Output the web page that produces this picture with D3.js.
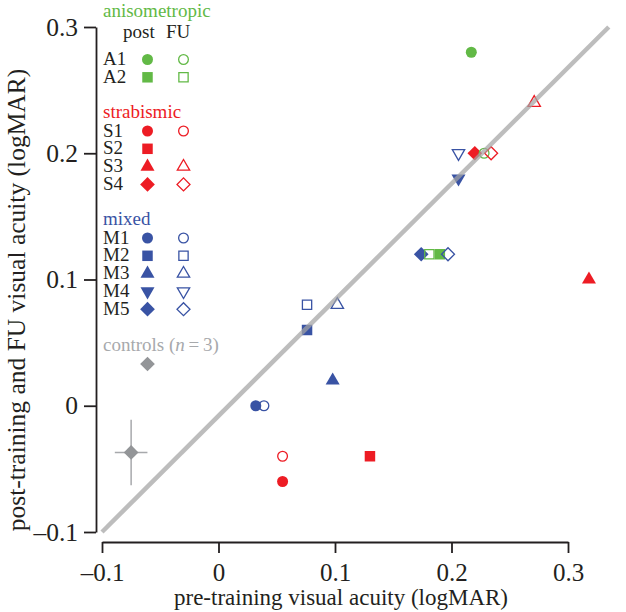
<!DOCTYPE html>
<html>
<head>
<meta charset="utf-8">
<script src="https://cdn.jsdelivr.net/npm/d3@7"></script>
<style>
body { margin: 0; background: #fff; }
svg text { font-family: "Liberation Serif", "Times New Roman", serif; fill: #231f20; }
</style>
</head>
<body>
<script>
// subjects, their group and marker shape
var subjects = ["A1", "A2", "S1", "S2", "S3", "S4", "M1", "M2", "M3", "M4", "M5"];
var groups   = ["aniso", "aniso", "strab", "strab", "strab", "strab", "mixed", "mixed", "mixed", "mixed", "mixed"];
var shapes   = ["circle", "square", "circle", "square", "triangle", "diamond",
                "circle", "square", "triangle", "triangleDown", "diamond"];

// post-training points (x read against the printed x axis)
var postX = [0.217, 0.190, 0.055, 0.130, 0.318, 0.220, 0.032, 0.076, 0.098, 0.206, 0.174];
var postY = [0.28, 0.12, -0.06, -0.04, 0.10, 0.20, 0.00, 0.06, 0.02, 0.18, 0.12];

// follow-up points (S2 has none)
var fuX = [0.228, 0.181, 0.055, null, 0.271, 0.234, 0.039, 0.076, 0.102, 0.206, 0.197];
var fuY = [0.20, 0.12, -0.04, null, 0.24, 0.20, 0.00, 0.08, 0.08, 0.20, 0.12];

// controls (n = 3): mean and error
var controlX = [-0.075], controlY = [-0.037];
var controlErrX = [0.014], controlErrY = [0.026];

// gray reference line, ends
var diagX = [-0.1, 0.335], diagY = [-0.1, 0.3];

var xTicks = [-0.1, 0, 0.1, 0.2, 0.3];
var yTicks = [-0.1, 0, 0.1, 0.2, 0.3];

var groupNames = ["aniso", "strab", "mixed"];
var groupLabels = ["anisometropic", "strabismic", "mixed"];
var groupColors = ["#62b946", "#ed1c24", "#3953a4"];

var margin = {top: 27, right: 58, bottom: 80, left: 102},
    width = 626 - margin.left - margin.right,
    height = 612 - margin.top - margin.bottom;

var x = d3.scaleLinear().domain([-0.1, 0.3]).range([0, width]);
var y = d3.scaleLinear().domain([-0.1, 0.3]).range([height, 0]);
var color = d3.scaleOrdinal().domain(groupNames).range(groupColors);

var fmt = function(d) {
  if (d === 0) return "0";
  return (d < 0 ? "\u2013" : "") + Math.abs(d);
};

var symbolType = {circle: d3.symbolCircle, square: d3.symbolSquare, triangle: d3.symbolTriangle,
                  triangleDown: d3.symbolTriangle, diamond: d3.symbolSquare};
var symbolSize = {circle: 95, square: 110, triangle: 85, triangleDown: 85, diamond: 108};
var symbolRot = {circle: 0, square: 0, triangle: 0, triangleDown: 180, diamond: 45};

function symbolPath(shape, open) {
  return d3.symbol().type(symbolType[shape]).size(symbolSize[shape] * (open ? 0.78 : 1))();
}

var svg = d3.select("body").append("svg")
    .attr("width", 626)
    .attr("height", 612);

var g = svg.append("g")
    .attr("transform", "translate(" + margin.left + "," + margin.top + ")");

// y axis, offset to the left
var yAxis = g.append("g")
    .attr("transform", "translate(-6,0)")
    .call(d3.axisLeft(y).tickValues(yTicks).tickFormat(fmt)
      .tickSize(12).tickSizeOuter(0).tickPadding(6));

// x axis, offset below
var xAxis = g.append("g")
    .attr("transform", "translate(0," + (height + 10) + ")")
    .call(d3.axisBottom(x).tickValues(xTicks).tickFormat(fmt)
      .tickSize(11).tickSizeOuter(0).tickPadding(10));

[xAxis, yAxis].forEach(function(a) {
  a.selectAll("path, line").attr("stroke", "#231f20").attr("stroke-width", 1.8);
  a.selectAll("text").style("font-size", "25.5px")
    .style("font-family", "'Liberation Serif', serif").attr("fill", "#231f20");
});
xAxis.selectAll("text").style("font-size", "25px");

// axis titles
svg.append("text")
    .attr("x", margin.left + width / 2 + 6)
    .attr("y", 605)
    .attr("text-anchor", "middle")
    .style("font-size", "23px")
    .text("pre-training visual acuity (logMAR)");

svg.append("text")
    .attr("transform", "translate(25," + 300 + ") rotate(-90)")
    .attr("text-anchor", "middle")
    .style("font-size", "25.5px")
    .text("post-training and FU visual acuity (logMAR)");

// controls with error bars
var ctrl = g.append("g");
controlX.forEach(function(cx, i) {
  ctrl.append("line")
      .attr("x1", x(cx)).attr("x2", x(cx))
      .attr("y1", y(controlY[i] - controlErrY[i])).attr("y2", y(controlY[i] + controlErrY[i]))
      .attr("stroke", "#a7a9ac").attr("stroke-width", 1.5);
  ctrl.append("line")
      .attr("x1", x(cx - controlErrX[i])).attr("x2", x(cx + controlErrX[i]))
      .attr("y1", y(controlY[i])).attr("y2", y(controlY[i]))
      .attr("stroke", "#a7a9ac").attr("stroke-width", 1.5);
  ctrl.append("path")
      .attr("d", symbolPath("diamond", false))
      .attr("transform", "translate(" + x(cx) + "," + y(controlY[i]) + ") rotate(45)")
      .attr("fill", "#939598");
});

// post points (filled) and FU points (open)
var idx = d3.range(subjects.length);

g.selectAll(".post")
    .data(idx)
  .enter().append("path")
    .attr("class", "post")
    .attr("d", function(i) { return symbolPath(shapes[i], false); })
    .attr("transform", function(i) {
      return "translate(" + x(postX[i]) + "," + y(postY[i]) + ") rotate(" + symbolRot[shapes[i]] + ")";
    })
    .attr("fill", function(i) { return color(groups[i]); });

g.selectAll(".fu")
    .data(idx.filter(function(i) { return fuX[i] !== null; }))
  .enter().append("path")
    .attr("class", "fu")
    .attr("d", function(i) { return symbolPath(shapes[i], true); })
    .attr("transform", function(i) {
      return "translate(" + x(fuX[i]) + "," + y(fuY[i]) + ") rotate(" + symbolRot[shapes[i]] + ")";
    })
    .attr("fill", "none")
    .attr("stroke", function(i) { return color(groups[i]); })
    .attr("stroke-width", 1.3);

// reference line
g.append("line")
    .attr("x1", x(diagX[0])).attr("y1", y(diagY[0]))
    .attr("x2", x(diagX[1])).attr("y2", y(diagY[1]))
    .attr("stroke", "#a3a3a3")
    .attr("stroke-opacity", 0.72)
    .attr("stroke-width", 4.5);

// legend
var leg = svg.append("g");
var legX = 103, postCol = 147.5, fuCol = 183.5, rowStep = 17.8;
var titleY = {aniso: 17, strab: 118, mixed: 225};
var rowY = {aniso: 65, strab: 136.5, mixed: 243.5};

groupNames.forEach(function(gn, k) {
  leg.append("text").attr("x", legX).attr("y", titleY[gn])
     .style("font-size", "19px").style("fill", groupColors[k]).text(groupLabels[k]);
});

leg.append("text").attr("x", 123).attr("y", 38).style("font-size", "19px").text("post");
leg.append("text").attr("x", 166).attr("y", 38).style("font-size", "19px").text("FU");

var counters = {aniso: 0, strab: 0, mixed: 0};
idx.forEach(function(i) {
  var gn = groups[i];
  var by = rowY[gn] + rowStep * counters[gn]++;
  leg.append("text").attr("x", legX).attr("y", by).style("font-size", "19px").text(subjects[i]);
  leg.append("path")
     .attr("d", symbolPath(shapes[i], false))
     .attr("transform", "translate(" + postCol + "," + (by - 5.5) + ") rotate(" + symbolRot[shapes[i]] + ")")
     .attr("fill", color(gn));
  if (fuX[i] !== null) {
    leg.append("path")
       .attr("d", symbolPath(shapes[i], true))
       .attr("transform", "translate(" + fuCol + "," + (by - 5.5) + ") rotate(" + symbolRot[shapes[i]] + ")")
       .attr("fill", "none").attr("stroke", color(gn)).attr("stroke-width", 1.3);
  }
});

var ctrlText = leg.append("text").attr("x", legX).attr("y", 351)
    .style("font-size", "19px").style("fill", "#a7a9ac");
ctrlText.append("tspan").style("fill", "#a7a9ac").text("controls (");
ctrlText.append("tspan").style("fill", "#a7a9ac").style("font-style", "italic").text("n");
ctrlText.append("tspan").style("fill", "#a7a9ac").text("\u2009=\u20093)");

leg.append("path")
   .attr("d", symbolPath("diamond", false))
   .attr("transform", "translate(" + postCol + ",364) rotate(45)")
   .attr("fill", "#939598");
</script>
</body>
</html>
